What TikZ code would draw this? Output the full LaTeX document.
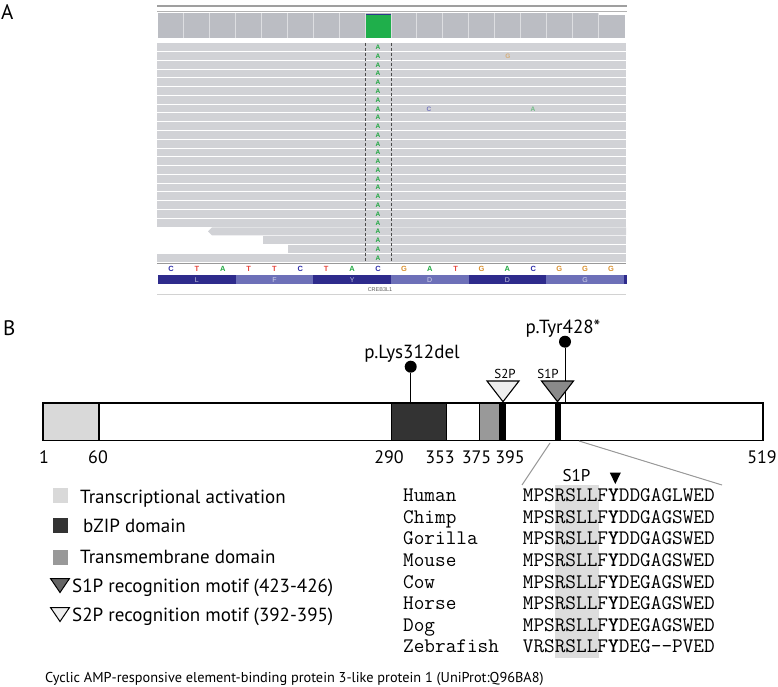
\documentclass[tikz,border=0pt]{standalone}
\usepackage{fontspec}
\setmainfont{PT Sans}
\newfontfamily\igvfont{Liberation Sans}
\definecolor{covgray}{HTML}{BBBDC3}
\definecolor{covsep}{HTML}{DDDEE1}
\definecolor{readgray}{HTML}{D1D2D6}
\definecolor{igvgreen}{HTML}{1FAF4B}
\definecolor{igvnavy}{HTML}{2D3A8A}
\definecolor{ntA}{HTML}{22A843}
\definecolor{ntC}{HTML}{2C2CA8}
\definecolor{ntG}{HTML}{D9902F}
\definecolor{ntT}{HTML}{E5453B}
\definecolor{aadark}{HTML}{2E2B8C}
\definecolor{aalight}{HTML}{6D70B8}
\definecolor{tadom}{HTML}{D9D9D9}
\definecolor{bzip}{HTML}{333333}
\definecolor{tmdom}{HTML}{999999}
\definecolor{sonepfill}{HTML}{8A8A8A}
\definecolor{stwopfill}{HTML}{EEEEEE}
\definecolor{boxgray}{HTML}{DDDDDD}
\definecolor{zoomline}{HTML}{9A9A9A}
\begin{document}
\begin{tikzpicture}[x=1pt,y=-1pt,
  igvbase/.style={font=\igvfont\bfseries\fontsize{7.5}{7.5}\selectfont, inner sep=0pt},
  readA/.style={font=\igvfont\bfseries\fontsize{6.5}{6.5}\selectfont, text=ntA, inner sep=0pt},
  mism/.style={font=\igvfont\bfseries\fontsize{6.5}{6.5}\selectfont, inner sep=0pt, text opacity=0.55},
  aalbl/.style={font=\igvfont\fontsize{7}{7}\selectfont, text=white, text opacity=0.7, inner sep=0pt},
  panellbl/.style={font=\fontsize{21}{21}\selectfont, anchor=base west, inner sep=0pt},
  numlbl/.style={font=\fontsize{18}{18}\selectfont, anchor=base, inner sep=0pt},
  leglbl/.style={font=\fontsize{19}{19}\selectfont, anchor=base west, inner sep=0pt},
  mutlbl/.style={font=\fontsize{19}{19}\selectfont, anchor=base, inner sep=0pt},
  sitelbl/.style={font=\fontsize{13}{13}\selectfont, anchor=base, inner sep=0pt},
  alntxt/.style={font=\ttfamily\fontsize{20.67}{20.67}\selectfont, anchor=base west, inner sep=0pt},
  protdom/.style={draw=black, line width=1.1pt},
  stick/.style={draw=black, line width=1pt},
  lolly/.style={circle, fill=black, minimum size=12pt, inner sep=0pt},
  zoomln/.style={draw=zoomline, line width=1pt},
]
\useasboundingbox (0,0) rectangle (778,687);

% ---------------- Panel A ----------------
\node[panellbl] (labA) at (1,20) {A};
\draw[gray!75, line width=1.8pt] (157,5.7) -- (627,5.7);
\draw[gray!60, line width=0.8pt] (157,11) -- (627,11);

% coverage track
\foreach \k in {0,...,16} {
  \fill[covgray] ({158+25.88*\k},13.3) rectangle ++(25.88,24.7);
}
\fill[covgray] ({158+25.88*17},15.3) rectangle ++(27,22.7);
\fill[igvgreen] (365.0,14.5) rectangle (390.9,38);
\draw[igvnavy, line width=1pt] (365,14.3) -- (390.9,14.3);
\foreach \k in {1,...,17} \draw[covsep, line width=0.8pt] ({158+25.88*\k},13.3) -- ++(0,24.7);

% reads
\foreach \i in {0,...,20,24} {
  \fill[readgray] (157,{43.3+8.77*\i}) rectangle (626,{43.3+8.77*\i+7.8});
}
\fill[readgray] (212,{43.3+8.77*21}) -- (208,{43.3+8.77*21+3.9}) -- (212,{43.3+8.77*21+7.8}) -- (626,{43.3+8.77*21+7.8}) -- (626,{43.3+8.77*21}) -- cycle;
\fill[readgray] (263,{43.3+8.77*22}) rectangle (626,{43.3+8.77*22+7.8});
\fill[readgray] (288,{43.3+8.77*23}) rectangle (626,{43.3+8.77*23+7.8});

\draw[black!70, dash pattern=on 3pt off 2pt, line width=0.7pt] (365.5,43) -- (365.5,262);
\draw[black!70, dash pattern=on 3pt off 2pt, line width=0.7pt] (391,43) -- (391,262);

\foreach \i in {0,...,24} {
  \node[readA] (rA\i) at (378,{43.3+8.77*\i+4.1}) {A};
}
\node[mism, text=ntG] (mG) at (508,{43.3+8.77*1+4.1}) {G};
\node[mism, text=ntC] (mC) at (429,{43.3+8.77*7+4.1}) {C};
\node[mism, text=ntA] (mA) at (533,{43.3+8.77*7+4.1}) {A};

% reference sequence
\draw[gray!80, line width=1.3pt] (157,263.3) -- (626,263.3);
\foreach \b [count=\k from 0] in {C,T,A,T,T,C,T,A,C,G,A,T,G,A,C,G,G,G} {
  \node[igvbase, text=nt\b] (nt\k) at ({171+25.88*\k},268.8) {\b};
}
% amino acids
\foreach \aa/\col [count=\k from 0] in {L/aadark,F/aalight,Y/aadark,D/aalight,D/aadark,G/aalight} {
  \fill[\col] ({158+77.64*\k},275) rectangle ++(77.64,9.3);
  \node[aalbl] (aa\k) at ({158+77.64*\k+38.82},279.8) {\aa};
}
\fill[aadark] (623.8,275) rectangle (626.5,284.3);
\node[font=\igvfont\fontsize{5.5}{5.5}\selectfont, text=black!65, inner sep=0pt] (gene) at (380,290) {CREB3L1};
\draw[gray!35, line width=0.6pt] (157,294.5) -- (626,294.5);

% ---------------- Panel B ----------------
\node[panellbl] (labB) at (3,335) {B};

% mutation sticks (behind triangles)
\node[lolly] (lys) at (410.7,366.7) {};
\node[lolly] (tyr) at (565,341.7) {};
\coordinate (lysbar) at (410.7,403);
\coordinate (tyrbar) at (565,403);
\draw[stick] (lys) -- (lysbar);
\draw[stick] (tyr) -- (tyrbar);
\node[mutlbl] (lyslbl) at (412,358) {p.Lys312del};
\node[mutlbl] (tyrlbl) at (563,333) {p.Tyr428*};

% protein bar
\draw[protdom, fill=white] (43,403) rectangle (763,440.7);
\draw[protdom, fill=tadom] (43,403) rectangle (99,440.7);
\draw[protdom, fill=bzip] (391.7,403) rectangle (446.7,440.7);
\draw[protdom, fill=tmdom] (479.3,403) rectangle (500,440.7);
\fill[black] (500,403) rectangle (505.5,440.7);
\fill[black] (555,403) rectangle (560.5,440.7);

% motif triangles
\draw[line width=1.1pt, fill=stwopfill] (487,381) -- (519,381) -- (503,401.7) -- cycle;
\draw[line width=1.1pt, fill=sonepfill] (541.5,381) -- (573.5,381) -- (557.5,401.7) -- cycle;
\node[sitelbl] (s2plbl) at (505,378.5) {S2P};
\node[sitelbl] (s1plbl) at (548,378.5) {S1P};

% positions
\node[numlbl] (n1) at (44,463) {1};
\node[numlbl] (n60) at (98,463) {60};
\node[numlbl] (n290) at (389,463) {290};
\node[numlbl] (n353) at (440,463) {353};
\node[numlbl] (n375) at (476.5,463) {375};
\node[numlbl] (n395) at (510,463) {395};
\node[numlbl] (n519) at (762,463) {519};

% legend
\fill[tadom] (53,488) rectangle (68,503);
\node[leglbl] (lg1) at (80,503) {Transcriptional activation};
\fill[bzip] (53,518) rectangle (68,533);
\node[leglbl] (lg2) at (83,532.5) {bZIP domain};
\fill[tmdom] (53,550) rectangle (68,565);
\node[leglbl] (lg3) at (80,563) {Transmembrane domain};
\draw[line width=1pt, fill=black!60] (50.5,578.5) -- (69.5,578.5) -- (60,592.5) -- cycle;
\node[leglbl] (lg4) at (72,592) {S1P recognition motif (423-426)};
\draw[line width=1pt, fill=stwopfill] (50.5,607.5) -- (69.5,607.5) -- (60,621.5) -- cycle;
\node[leglbl] (lg5) at (72,621.5) {S2P recognition motif (392-395)};

\node[font=\fontsize{14.3}{14.3}\selectfont, anchor=base west, inner sep=0pt] (caption) at (45,682)
  {Cyclic AMP-responsive element-binding protein 3-like protein 1 (UniProt:Q96BA8)};

% alignment
\fill[boxgray] (555.2,485) rectangle (598.6,658);
\coordinate (zl1) at (550,443);
\coordinate (zl2) at (522,485);
\coordinate (zr1) at (579,441);
\coordinate (zr2) at (722,485);
\draw[zoomln] (zl1) -- (zl2);
\draw[zoomln] (zr1) -- (zr2);
\node[font=\fontsize{17}{17}\selectfont, anchor=base, inner sep=0pt] (alns1p) at (576.5,481.5) {S1P};
\fill[black] (609.8,472.7) -- (620.8,472.7) -- (615.3,484) -- cycle;

\foreach \sp/\pre/\post [count=\r from 0] in {
  Human/MPSRSLLF/DDGAGLWED,
  Chimp/MPSRSLLF/DDGAGSWED,
  Gorilla/MPSRSLLF/DDGAGSWED,
  Mouse/MPSRSLLF/DDGAGSWED,
  Cow/MPSRSLLF/DEGAGSWED,
  Horse/MPSRSLLF/DEGAGSWED,
  Dog/MPSRSLLF/DEGAGSWED,
  Zebrafish/VRSRSLLF/DEG--PVED} {
  \node[alntxt, text height=11pt, text depth=3pt] (sp\r) at (403,{501.7+21.6*\r}) {\sp};
  \node[alntxt, text height=11pt, text depth=3pt] (seq\r) at (522.7,{501.7+21.6*\r}) {\pre\textbf{Y}\post};
}
\end{tikzpicture}
\end{document}
